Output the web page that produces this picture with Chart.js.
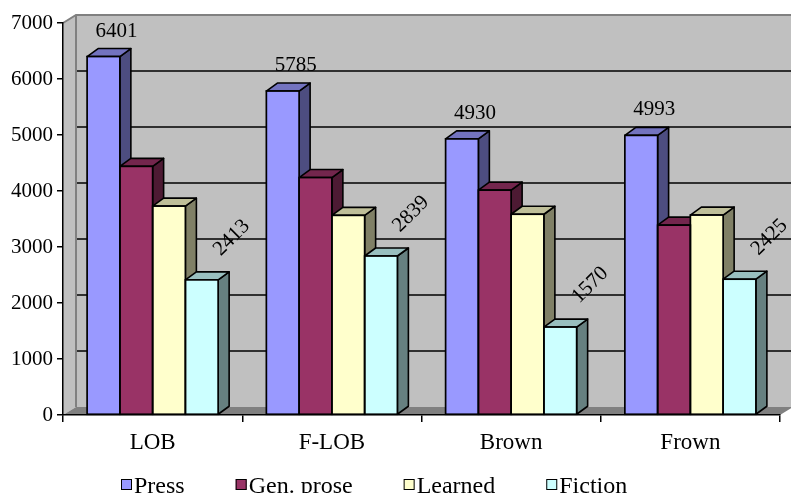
<!DOCTYPE html>
<html>
<head>
<meta charset="utf-8">
<title>Corpus sizes</title>
<script src="https://cdn.jsdelivr.net/npm/chart.js@4.4.0/dist/chart.umd.min.js"></script>
<style>
  html, body { margin: 0; padding: 0; background: #fff; }
  #wrap { width: 791px; height: 493px; }
</style>
</head>
<body>
<div id="wrap"><canvas id="chart" width="791" height="493"></canvas></div>
<script>

// data
var corpora  = ["LOB", "F-LOB", "Brown", "Frown"];
var press    = [6401, 5785, 4930, 4993];
var genProse = [4440, 4240, 4015, 3390];
var learned  = [3730, 3565, 3585, 3570];
var fiction  = [2413, 2839, 1570, 2425];
var yTicks   = [0, 1000, 2000, 3000, 4000, 5000, 6000, 7000];

var serif = '"Liberation Serif", "Times New Roman", serif';

// depth of the fake 3d
var DX = 11, DY = -8;   // bars
var WX = 13, WY = -8;   // walls

function shade(hex, f){
	var n = parseInt(hex.slice(1), 16);
	var r = Math.round(((n >> 16) & 255) * f);
	var g = Math.round(((n >> 8) & 255) * f);
	var b = Math.round((n & 255) * f);
	return 'rgb(' + r + ',' + g + ',' + b + ')';
}

function poly(ctx, pts, fill, stroke){
	ctx.beginPath();
	ctx.moveTo(pts[0][0], pts[0][1]);
	for (var i = 1; i < pts.length; i++) ctx.lineTo(pts[i][0], pts[i][1]);
	ctx.closePath();
	if (fill) { ctx.fillStyle = fill; ctx.fill(); }
	if (stroke) ctx.stroke();
}

function barBox(bar){
	var p = bar.getProps(['x', 'y', 'base', 'width'], true);
	return { x0: p.x - p.width / 2, x1: p.x + p.width / 2, x: p.x, top: p.y, base: p.base };
}

var box3d = {
	id: 'box3d',

	// walls, floor and the gridlines on the back wall
	beforeDraw: function(chart){
		var ctx = chart.ctx, a = chart.chartArea, ys = chart.scales.y;
		ctx.save();
		poly(ctx, [[a.left + WX, a.top + WY], [chart.width, a.top + WY], [chart.width, a.bottom + WY], [a.left + WX, a.bottom + WY]], '#C0C0C0');
		poly(ctx, [[a.left, a.top], [a.left + WX, a.top + WY], [a.left + WX, a.bottom + WY], [a.left, a.bottom]], '#C0C0C0');
		poly(ctx, [[a.left, a.bottom], [a.right, a.bottom], [a.right + WX, a.bottom + WY], [a.left + WX, a.bottom + WY]], '#808080');

		ctx.strokeStyle = '#000';
		ctx.lineWidth = 1.6;
		yTicks.forEach(function(v){
			if (v <= ys.min || v >= ys.max) return;
			var y = Math.round(ys.getPixelForValue(v) + WY);
			ctx.beginPath();
			ctx.moveTo(a.left + WX, y);
			ctx.lineTo(chart.width, y);
			ctx.stroke();
		});

		ctx.strokeStyle = '#808080';
		ctx.lineWidth = 2;
		ctx.beginPath();
		ctx.moveTo(a.left, a.top);
		ctx.lineTo(a.left + WX, a.top + WY);
		ctx.lineTo(chart.width, a.top + WY);
		ctx.moveTo(a.left + WX, a.top + WY);
		ctx.lineTo(a.left + WX, a.bottom + WY);
		ctx.stroke();
		ctx.restore();
	},

	// side and top faces, the library draws the fronts on top
	beforeDatasetsDraw: function(chart){
		var ctx = chart.ctx;
		ctx.save();
		ctx.strokeStyle = '#000';
		ctx.lineWidth = 1.6;
		ctx.lineJoin = 'round';
		chart.data.datasets.forEach(function(ds, i){
			chart.getDatasetMeta(i).data.forEach(function(bar){
				var b = barBox(bar);
				poly(ctx, [[b.x1, b.top], [b.x1 + DX, b.top + DY], [b.x1 + DX, b.base + DY], [b.x1, b.base]], shade(ds.backgroundColor, 0.5), true);
				poly(ctx, [[b.x0, b.top], [b.x0 + DX, b.top + DY], [b.x1 + DX, b.top + DY], [b.x1, b.top]], shade(ds.backgroundColor, 0.75), true);
			});
		});
		ctx.restore();
	},

	// front outlines and value labels
	afterDatasetsDraw: function(chart){
		var ctx = chart.ctx;
		ctx.save();
		ctx.strokeStyle = '#000';
		ctx.lineWidth = 1.7;
		chart.data.datasets.forEach(function(ds, i){
			chart.getDatasetMeta(i).data.forEach(function(bar){
				var b = barBox(bar);
				ctx.strokeRect(b.x0, b.top, b.x1 - b.x0, b.base - b.top);
			});
		});

		ctx.fillStyle = '#000';
		ctx.font = '21px ' + serif;
		chart.data.datasets.forEach(function(ds, i){
			if (!ds.valueLabel) return;
			chart.getDatasetMeta(i).data.forEach(function(bar, j){
				var b = barBox(bar);
				var txt = String(ds.data[j]);
				if (ds.valueLabel === 'flat') {
					ctx.textAlign = 'center';
					ctx.textBaseline = 'alphabetic';
					ctx.fillText(txt, b.x + DX + 2, b.top + DY - 12);
				} else {
					ctx.save();
					ctx.translate(b.x + 30, b.top - 42);
					ctx.rotate(-Math.PI / 4);
					ctx.textAlign = 'center';
					ctx.textBaseline = 'middle';
					ctx.fillText(txt, 0, 0);
					ctx.restore();
				}
			});
		});
		ctx.restore();
	},

	// legend along the bottom
	afterDraw: function(chart){
		var ctx = chart.ctx;
		var lx = 121;
		ctx.save();
		ctx.font = '24px ' + serif;
		ctx.textAlign = 'left';
		ctx.textBaseline = 'alphabetic';
		ctx.lineWidth = 1;
		ctx.strokeStyle = '#000';
		chart.data.datasets.forEach(function(ds){
			ctx.fillStyle = ds.backgroundColor;
			ctx.fillRect(lx, 479, 11, 11);
			ctx.strokeRect(lx + 0.5, 479.5, 10, 10);
			ctx.fillStyle = '#000';
			ctx.fillText(ds.label, lx + 13, 493);
			lx += 13 + ctx.measureText(ds.label).width + 51;
		});
		ctx.restore();
	}
};

var barStyle = { borderWidth: 0 };

var chart = new Chart(document.getElementById('chart'), {
	type: 'bar',
	data: {
		labels: corpora,
		datasets: [
			Object.assign({ label: 'Press',      data: press,    backgroundColor: '#9999FF', valueLabel: 'flat' }, barStyle),
			Object.assign({ label: 'Gen. prose', data: genProse, backgroundColor: '#993366' }, barStyle),
			Object.assign({ label: 'Learned',    data: learned,  backgroundColor: '#FFFFCC' }, barStyle),
			Object.assign({ label: 'Fiction',    data: fiction,  backgroundColor: '#CCFFFF', valueLabel: 'tilted' }, barStyle)
		]
	},
	options: {
		responsive: false,
		animation: false,
		events: [],
		layout: { padding: { top: 23, right: 11, left: 0, bottom: 38 } },
		datasets: { bar: { categoryPercentage: 0.731, barPercentage: 1 } },
		plugins: { legend: { display: false }, tooltip: { enabled: false } },
		scales: {
			x: {
				afterFit: function(s){ s.height = 40; },
				grid: { drawOnChartArea: false, offset: true, tickLength: 7, color: '#000', lineWidth: 1.5 },
				border: { color: '#000', width: 1.5 },
				ticks: { color: '#000', padding: 7, font: { family: serif, size: 23 } }
			},
			y: {
				min: 0,
				max: 7000,
				afterFit: function(s){ s.width = 63; },
				afterBuildTicks: function(s){ s.ticks = yTicks.map(function(v){ return { value: v }; }); },
				grid: { drawOnChartArea: false, tickLength: 6, color: '#000', lineWidth: 1.5 },
				border: { color: '#000', width: 1.5 },
				ticks: {
					color: '#000', padding: 4, font: { family: serif, size: 21 },
					callback: function(v){ return String(v); }
				}
			}
		}
	},
	plugins: [box3d]
});

</script>
</body>
</html>
